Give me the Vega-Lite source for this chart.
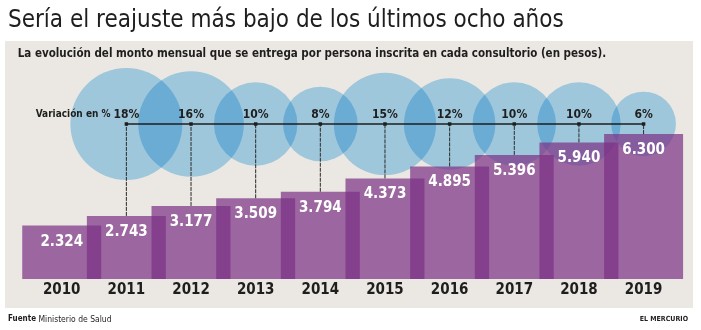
{
  "$schema": "https://vega.github.io/schema/vega-lite/v6.json",
  "width": 688,
  "height": 267,
  "autosize": {"type": "none"},
  "padding": {"left": 5, "top": 41, "right": 8, "bottom": 22},
  "background": "#ffffff",
  "title": {
    "text": "Sería el reajuste más bajo de los últimos ocho años",
    "anchor": "start",
    "frame": "group",
    "dx": 3,
    "offset": 9,
    "font": "DejaVu Sans Condensed",
    "fontSize": 24,
    "fontWeight": "normal",
    "color": "#1e1e1e"
  },
  "config": {
    "view": {"fill": "#ebe7e2", "stroke": null},
    "locale": {"number": {"decimal": ",", "thousands": ".", "grouping": [3], "currency": ["$", ""]}},
    "text": {"font": "DejaVu Sans Condensed"}
  },
  "data": {
    "values": [
      {"anio": 2010, "monto": 2324, "variacion": null},
      {"anio": 2011, "monto": 2743, "variacion": 0.18},
      {"anio": 2012, "monto": 3177, "variacion": 0.16},
      {"anio": 2013, "monto": 3509, "variacion": 0.10},
      {"anio": 2014, "monto": 3794, "variacion": 0.08},
      {"anio": 2015, "monto": 4373, "variacion": 0.15},
      {"anio": 2016, "monto": 4895, "variacion": 0.12},
      {"anio": 2017, "monto": 5396, "variacion": 0.10},
      {"anio": 2018, "monto": 5940, "variacion": 0.10},
      {"anio": 2019, "monto": 6300, "variacion": 0.06}
    ]
  },
  "layer": [
    {
      "transform": [{"filter": "datum.variacion != null"}],
      "mark": {"type": "point", "shape": "circle", "filled": true, "color": "#acdcf8", "opacity": 1, "strokeWidth": 0, "blend": "multiply"},
      "encoding": {
        "x": {"field": "anio", "type": "quantitative", "axis": null,
              "scale": {"domain": [2009.2, 2019.687], "nice": false, "zero": false}},
        "y": {"datum": 6740, "type": "quantitative", "axis": null,
              "scale": {"domain": [-1261, 10348], "nice": false, "zero": false}},
        "size": {"field": "variacion", "type": "quantitative", "legend": null,
                 "scale": {"type": "linear", "domain": [0, 0.18], "range": [0, 12544]}}
      }
    },
    {
      "mark": {"type": "bar", "width": 79, "color": "#7a3084", "opacity": 0.7},
      "encoding": {
        "x": {"field": "anio", "type": "quantitative"},
        "y": {"field": "monto", "type": "quantitative"},
        "y2": {"datum": 0}
      }
    },
    {
      "transform": [{"filter": "datum.variacion != null"}],
      "mark": {"type": "rule", "color": "#2a2a2a", "strokeWidth": 1, "strokeDash": [4, 1]},
      "encoding": {
        "x": {"field": "anio", "type": "quantitative"},
        "y": {"field": "monto", "type": "quantitative"},
        "y2": {"datum": 6740}
      }
    },
    {
      "data": {"values": [{"desde": 2011, "hasta": 2019}]},
      "mark": {"type": "rule", "color": "#1e1e1e", "strokeWidth": 1.6},
      "encoding": {
        "x": {"field": "desde", "type": "quantitative"},
        "x2": {"field": "hasta"},
        "y": {"datum": 6740, "type": "quantitative"}
      }
    },
    {
      "transform": [{"filter": "datum.variacion != null"}],
      "mark": {"type": "point", "shape": "square", "filled": true, "color": "#1e1e1e", "size": 12, "opacity": 1},
      "encoding": {
        "x": {"field": "anio", "type": "quantitative"},
        "y": {"datum": 6740, "type": "quantitative"}
      }
    },
    {
      "transform": [{"filter": "datum.variacion != null"}],
      "mark": {"type": "text", "fontSize": 12, "fontWeight": "bold", "color": "#1e1e1e", "baseline": "middle", "dy": -10},
      "encoding": {
        "x": {"field": "anio", "type": "quantitative"},
        "y": {"datum": 6740, "type": "quantitative"},
        "text": {"field": "variacion", "type": "quantitative", "format": ".0%"}
      }
    },
    {
      "mark": {"type": "text", "fontSize": 15, "fontWeight": "bold", "color": "#ffffff", "baseline": "middle", "dy": 15},
      "encoding": {
        "x": {"field": "anio", "type": "quantitative"},
        "y": {"field": "monto", "type": "quantitative"},
        "text": {"field": "monto", "type": "quantitative", "format": ",d"}
      }
    },
    {
      "mark": {"type": "text", "fontSize": 15, "fontWeight": "bold", "color": "#1e1e1e", "baseline": "middle", "dy": 10},
      "encoding": {
        "x": {"field": "anio", "type": "quantitative"},
        "y": {"datum": 0, "type": "quantitative"},
        "text": {"field": "anio", "type": "quantitative", "format": "d"}
      }
    },
    {
      "data": {"values": [{"texto": "Variación en %"}]},
      "mark": {"type": "text", "fontSize": 10, "fontWeight": "bold", "color": "#1e1e1e", "baseline": "middle", "align": "right", "dy": -10},
      "encoding": {
        "x": {"datum": 2010.755, "type": "quantitative"},
        "y": {"datum": 6740, "type": "quantitative"},
        "text": {"field": "texto", "type": "nominal"}
      }
    },
    {
      "data": {"values": [{"texto": "La evolución del monto mensual que se entrega por persona inscrita en cada consultorio (en pesos)."}]},
      "mark": {"type": "text", "fontSize": 11.5, "fontWeight": "bold", "color": "#1e1e1e", "baseline": "alphabetic", "align": "left"},
      "encoding": {
        "x": {"datum": 2009.32, "type": "quantitative"},
        "y": {"datum": 9652, "type": "quantitative"},
        "text": {"field": "texto", "type": "nominal"}
      }
    },
    {
      "data": {"values": [{"texto": "Fuente"}]},
      "mark": {"type": "text", "fontSize": 8, "fontWeight": "bold", "color": "#1e1e1e", "baseline": "middle", "align": "left"},
      "encoding": {
        "x": {"datum": 2009.17, "type": "quantitative"},
        "y": {"datum": -1739, "type": "quantitative"},
        "text": {"field": "texto", "type": "nominal"}
      }
    },
    {
      "data": {"values": [{"texto": "Ministerio de Salud"}]},
      "mark": {"type": "text", "fontSize": 8.5, "fontWeight": "normal", "color": "#1e1e1e", "baseline": "middle", "align": "left"},
      "encoding": {
        "x": {"datum": 2009.64, "type": "quantitative"},
        "y": {"datum": -1739, "type": "quantitative"},
        "text": {"field": "texto", "type": "nominal"}
      }
    },
    {
      "data": {"values": [{"texto": "EL MERCURIO"}]},
      "mark": {"type": "text", "fontSize": 7, "fontWeight": "bold", "color": "#1e1e1e", "baseline": "middle", "align": "right"},
      "encoding": {
        "x": {"datum": 2019.687, "type": "quantitative"},
        "y": {"datum": -1739, "type": "quantitative"},
        "text": {"field": "texto", "type": "nominal"}
      }
    }
  ]
}
